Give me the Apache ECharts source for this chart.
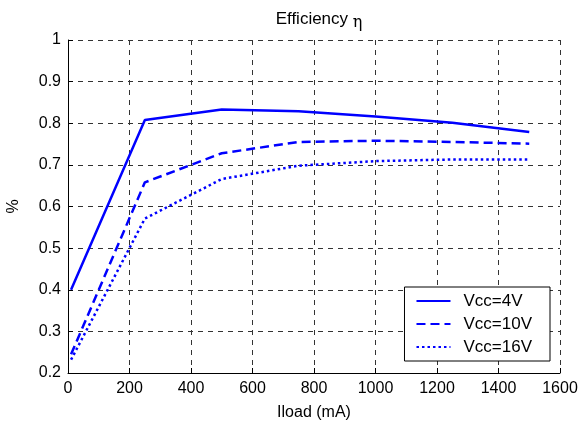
<!DOCTYPE html>
<html>
<head>
<meta charset="utf-8">
<script src="https://cdn.jsdelivr.net/npm/echarts@6/dist/echarts.min.js"></script>
<style>
html, body { margin: 0; padding: 0; background: #fff; }
#main { width: 582px; height: 428px; }
</style>
</head>
<body>
<div id="main"></div>
<script>
var iload = [10, 250, 500, 750, 1000, 1250, 1500];
var eff4 = [0.400, 0.808, 0.833, 0.829, 0.816, 0.801, 0.779];
var eff10 = [0.245, 0.658, 0.728, 0.755, 0.758, 0.755, 0.751];
var eff16 = [0.232, 0.571, 0.666, 0.698, 0.709, 0.713, 0.713];
var names = ['Vcc=4V', 'Vcc=10V', 'Vcc=16V'];

function pairs(xs, ys) {
    return xs.map(function(x, i) { return [x, ys[i]]; });
}

var font = 'Liberation Sans, Arial, sans-serif';
var gridLine = { show: true, lineStyle: { color: '#333', type: [5, 5], width: 1 } };

var chart = echarts.init(document.getElementById('main'));
chart.setOption({
    backgroundColor: '#fff',
    animation: false,
    title: {
        text: 'Efficiency {eta|η}',
        left: 314,
        top: 3,
        textAlign: 'center',
        textStyle: {
            fontFamily: font, fontSize: 17, fontWeight: 'normal', color: '#000',
            rich: { eta: { fontFamily: 'DejaVu Serif, serif', fontSize: 16, color: '#000', padding: [7, 0, 0, 0] } }
        }
    },
    grid: { left: 68, right: 22, top: 40, bottom: 55, outerBoundsMode: 'none' },
    legend: {
        orient: 'vertical',
        right: 32,
        top: 287,
        itemWidth: 34,
        itemHeight: 10,
        itemGap: 5,
        padding: [5, 18, 5, 11],
        borderColor: '#000',
        borderWidth: 1,
        backgroundColor: '#fff',
        itemStyle: { opacity: 0 },
        textStyle: { fontFamily: font, fontSize: 17, color: '#000', lineHeight: 18, padding: [0, 0, 0, 8] },
        data: names
    },
    xAxis: {
        type: 'value',
        min: 0, max: 1600, interval: 200,
        name: 'Iload (mA)',
        nameLocation: 'middle',
        nameGap: 32,
        nameTextStyle: { fontFamily: font, fontSize: 16, color: '#000' },
        axisLine: { show: true, lineStyle: { color: '#000' } },
        axisTick: { show: true, inside: true, length: 5, lineStyle: { color: '#000' } },
        axisLabel: {
            fontFamily: font, fontSize: 16, color: '#000', margin: 8,
            formatter: function(v) { return String(v); }
        },
        splitLine: gridLine
    },
    yAxis: {
        type: 'value',
        min: 0.2, max: 1, interval: 0.1,
        name: '%',
        nameLocation: 'middle',
        nameGap: 46,
        nameTextStyle: { fontFamily: font, fontSize: 16, color: '#000' },
        axisLine: { show: true, lineStyle: { color: '#000' } },
        axisTick: { show: true, inside: true, length: 5, lineStyle: { color: '#000' } },
        axisLabel: {
            fontFamily: font, fontSize: 16, color: '#000', margin: 7,
            formatter: function(v) { return (Math.round(v * 10) / 10).toString(); }
        },
        splitLine: gridLine
    },
    series: [{
        name: names[0],
        type: 'line',
        symbol: 'none',
        data: pairs(iload, eff4),
        lineStyle: { color: '#0000ff', width: 2.5, type: 'solid' },
        itemStyle: { color: '#0000ff' }
    }, {
        name: names[1],
        type: 'line',
        symbol: 'none',
        data: pairs(iload, eff10),
        lineStyle: { color: '#0000ff', width: 2.5, type: [9, 5] },
        itemStyle: { color: '#0000ff' }
    }, {
        name: names[2],
        type: 'line',
        symbol: 'none',
        data: pairs(iload, eff16),
        lineStyle: { color: '#0000ff', width: 2.5, type: [2.5, 3] },
        itemStyle: { color: '#0000ff' }
    }]
});
</script>
</body>
</html>
